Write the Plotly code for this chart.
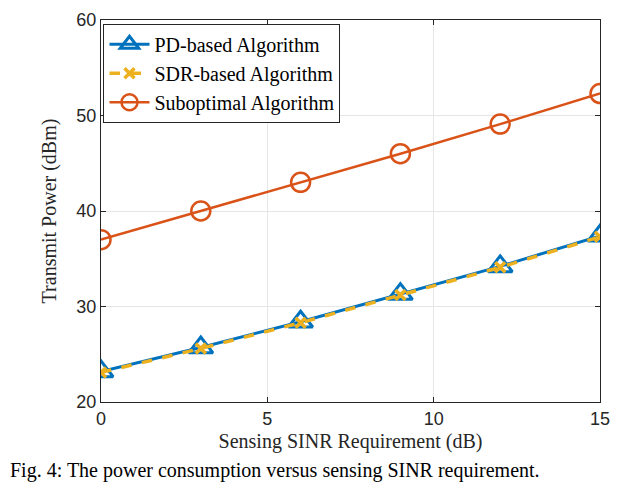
import plotly.graph_objects as go

# data
sinr_db = [0, 3, 6, 9, 12, 15]
pd_power = [23.2, 25.7, 28.4, 31.3, 34.2, 37.4]
sdr_power = [23.1, 25.6, 28.3, 31.2, 34.1, 37.3]
subopt_power = [37.0, 40.0, 43.0, 46.0, 49.1, 52.3]

x_ticks = [0, 5, 10, 15]
y_ticks = [20, 30, 40, 50, 60]

caption = 'Fig. 4: The power consumption versus sensing SINR requirement.'

serif = "Liberation Serif"
sans = "Liberation Sans"

trace_pd = go.Scatter(
    x=sinr_db, y=pd_power, mode='lines+markers', name='PD-based Algorithm',
    line=dict(color='#0072BD', width=3),
    marker=dict(symbol='triangle-up-open', size=21, color='#0072BD', line=dict(width=3))
)
trace_sdr = go.Scatter(
    x=sinr_db, y=sdr_power, mode='lines+markers', name='SDR-based Algorithm',
    line=dict(color='#EDB120', width=3.5, dash='dash'),
    marker=dict(symbol='x-thin-open', size=10, color='#EDB120', line=dict(width=3.5, color='#EDB120'))
)
trace_sub = go.Scatter(
    x=sinr_db, y=subopt_power, mode='lines+markers', name='Suboptimal Algorithm',
    line=dict(color='#D95319', width=2.5),
    marker=dict(symbol='circle-open', size=19, color='#D95319', line=dict(width=2.5))
)

axis_style = dict(
    showline=True, linecolor='#262626', linewidth=1, mirror='ticks',
    ticks='inside', ticklen=5, tickcolor='#262626',
    showgrid=True, gridcolor='#e6e6e6', gridwidth=1, automargin=False,
    zeroline=False, tickfont=dict(family=sans, size=18, color='#262626'),
)

layout = go.Layout(
    width=640, height=484,
    margin=dict(l=93, r=48, t=12, b=90),
    plot_bgcolor='white', paper_bgcolor='white',
    xaxis=dict(axis_style, range=[0, 15], tickvals=x_ticks,
               title=dict(text='Sensing SINR Requirement (dB)', standoff=6,
                          font=dict(family=serif, size=20, color='#262626'))),
    yaxis=dict(axis_style, range=[20, 60.001], tickvals=y_ticks,
               title=dict(text='Transmit Power (dBm)', standoff=14,
                          font=dict(family=serif, size=20, color='#262626'))),
    legend=dict(x=0.005, y=0.99, xanchor='left', yanchor='top',
                bgcolor='white', bordercolor='#262626', borderwidth=1,
                font=dict(family=serif, size=20, color='black'),
                tracegroupgap=0, itemwidth=40),
    showlegend=True,
    annotations=[dict(
        text=caption,
        xref='paper', yref='paper', x=-0.186, y=-0.145, xanchor='left', yanchor='top',
        showarrow=False, font=dict(family=serif, size=20, color='black')
    )]
)

fig = go.Figure(data=[trace_pd, trace_sdr, trace_sub], layout=layout)
fig.write_html("out.html")
